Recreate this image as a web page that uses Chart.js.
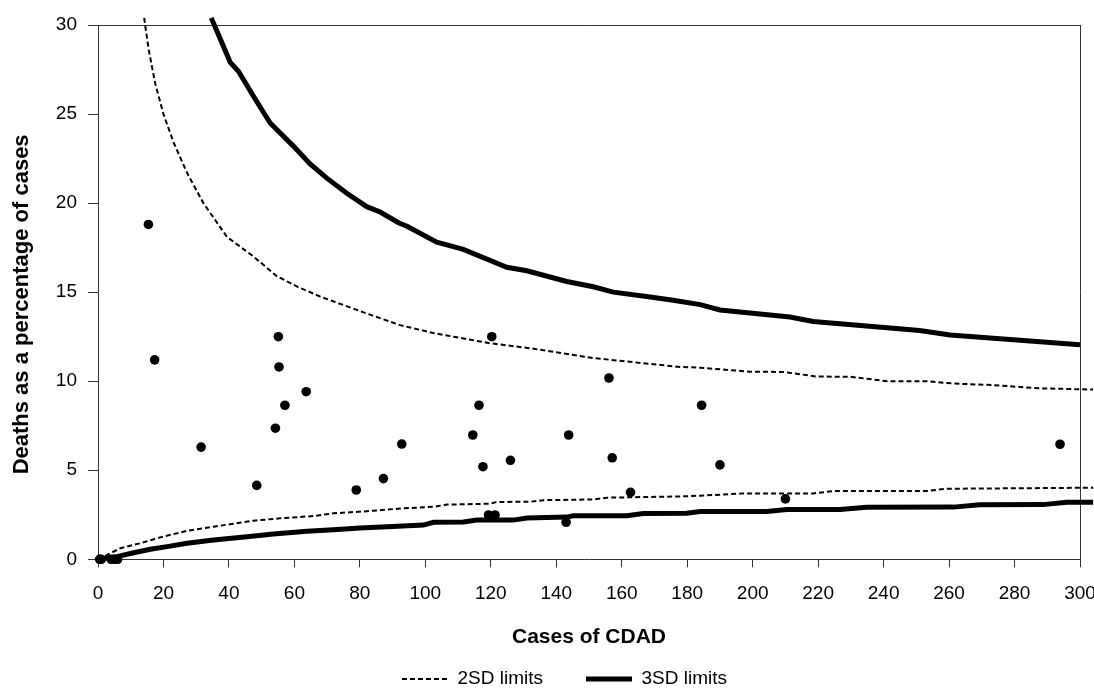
<!DOCTYPE html>
<html>
<head>
<meta charset="utf-8">
<script src="https://cdn.jsdelivr.net/npm/chart.js@4/dist/chart.umd.min.js"></script>
<style>
  body { margin: 0; background: #fff; }
  canvas { display: block; }
</style>
</head>
<body>
<canvas id="funnelChart" width="1094" height="688"></canvas>
<script>
// Observed values: cases of CDAD and deaths as % of cases
var casesObs = [0.5, 1, 4, 5, 6, 15.4, 17.3, 31.5, 48.5, 54.2, 55.1, 55.3, 57.1, 63.6, 78.9, 87.2, 92.8,
    114.5, 116.4, 117.6, 119.3, 120.3, 121.3, 126, 143, 143.8, 156.1, 157.1, 162.7, 184.4, 190, 210, 293.9];
var deathsPct = [0, 0, 0, 0, 0, 18.8, 11.2, 6.3, 4.15, 7.36, 12.5, 10.8, 8.65, 9.41, 3.89, 4.53, 6.47,
    6.98, 8.65, 5.2, 2.49, 12.5, 2.49, 5.56, 2.08, 6.98, 10.18, 5.7, 3.76, 8.65, 5.3, 3.39, 6.46];

// 2SD limits
var upper2X = [14.1, 15.5, 17.5, 20, 23.1, 27.2, 32.2, 39.4, 47.5, 54.6, 61, 67.9, 82.1, 92.3, 102.5, 119.8,
    132, 151.3, 177.8, 184, 199.3, 209.4, 219.6, 229.8, 241, 253, 261.3, 273.5, 287.7, 304];
var upper2Y = [30.4, 28.6, 26.7, 25.0, 23.4, 21.7, 20.0, 18.1, 17.0, 15.9, 15.3, 14.75, 13.8, 13.15, 12.7, 12.13,
    11.85, 11.3, 10.8, 10.76, 10.53, 10.52, 10.26, 10.25, 10.0, 10.0, 9.87, 9.78, 9.6, 9.53];
var lower2X = [0, 3.8, 6.8, 12.9, 19, 27.2, 35.3, 41.4, 47.5, 55.7, 65.8, 71.9, 82.1, 92.3, 102.5, 106.6,
    119.8, 121.8, 132, 136.1, 151.3, 155.4, 177.8, 184, 197.1, 218.5, 224.6, 253, 259.1, 304];
var lower2Y = [0, 0.34, 0.62, 0.9, 1.23, 1.6, 1.83, 2.0, 2.17, 2.3, 2.43, 2.58, 2.7, 2.85, 2.95, 3.07,
    3.12, 3.22, 3.23, 3.32, 3.36, 3.46, 3.53, 3.57, 3.7, 3.7, 3.83, 3.83, 3.96, 4.02];

// 3SD limits
var upper3X = [34.6, 37.4, 40.4, 42.9, 47.5, 52.6, 59.7, 64.8, 69.9, 76, 82.1, 86.2, 91.8, 94.4, 103.5, 111.6,
    124.9, 131, 143.2, 151.3, 157.4, 167.6, 175.7, 184, 190, 211.4, 218.5, 251, 260.3, 300, 304];
var upper3Y = [30.4, 29.2, 27.9, 27.4, 26.0, 24.5, 23.2, 22.2, 21.4, 20.55, 19.8, 19.5, 18.9, 18.7, 17.8, 17.4,
    16.4, 16.2, 15.6, 15.3, 15.0, 14.75, 14.55, 14.3, 14.0, 13.6, 13.35, 12.85, 12.6, 12.05, 12.0];
var lower3X = [0, 5.8, 10.9, 16, 21.1, 27.2, 35.3, 45.5, 53.6, 63.8, 71.9, 80, 90, 99.4, 102.5, 111.6, 115.7,
    126.9, 131, 143.2, 145.2, 161.5, 166.6, 179.8, 184, 204.3, 210.4, 226.7, 234.8, 261.3, 269.4, 288.7, 295.9, 304];
var lower3Y = [0, 0.15, 0.37, 0.56, 0.71, 0.9, 1.08, 1.27, 1.42, 1.58, 1.66, 1.76, 1.84, 1.92, 2.08, 2.1, 2.2,
    2.2, 2.32, 2.37, 2.44, 2.45, 2.57, 2.58, 2.68, 2.68, 2.8, 2.8, 2.92, 2.93, 3.06, 3.07, 3.2, 3.2];

// axis ranges and tick steps
var xRange = [0, 300];
var yRange = [0, 30];
var xStep = 20;
var yStep = 5;

function toPoints(xs, ys) {
    return xs.map(function(x, i) { return { x: x, y: ys[i] }; });
}

// moves the legend so it sits where the original one does
var legendNudge = {
    id: 'legendNudge',
    afterLayout: function(chart) {
        var lg = chart.legend;
        if (!lg) return;
        lg.left = 49;
        lg.top += 10.5;
        lg.bottom += 10.5;
    }
};

Chart.defaults.font.family = '"Liberation Sans", Arial, sans-serif';
Chart.defaults.color = '#000';

var axisColor = '#333';

var ctx = document.getElementById('funnelChart').getContext('2d');
var chart = new Chart(ctx, {
    type: 'scatter',
    data: {
        datasets: [
            {
                label: '2SD limits',
                data: toPoints(upper2X, upper2Y),
                showLine: true, borderColor: '#000', borderWidth: 2, borderDash: [5, 3],
                pointRadius: 0, tension: 0, clip: false
            },
            {
                label: '2SD lower',
                data: toPoints(lower2X, lower2Y),
                showLine: true, borderColor: '#000', borderWidth: 2, borderDash: [5, 3],
                pointRadius: 0, tension: 0, clip: false
            },
            {
                label: '3SD limits',
                data: toPoints(upper3X, upper3Y),
                showLine: true, borderColor: '#000', borderWidth: 5,
                pointRadius: 0, tension: 0, clip: false
            },
            {
                label: '3SD lower',
                data: toPoints(lower3X, lower3Y),
                showLine: true, borderColor: '#000', borderWidth: 5,
                pointRadius: 0, tension: 0, clip: false
            },
            {
                label: 'Observed',
                data: toPoints(casesObs, deathsPct),
                backgroundColor: '#000', borderWidth: 0,
                pointRadius: 4.8, pointHoverRadius: 4.8, clip: false
            }
        ]
    },
    options: {
        responsive: false,
        animation: false,
        layout: { padding: { top: 25, right: 14, bottom: 0, left: 0 } },
        plugins: {
            tooltip: { enabled: false },
            legend: {
                position: 'bottom',
                labels: {
                    usePointStyle: true,
                    pointStyle: 'line',
                    pointStyleWidth: 46,
                    padding: 43,
                    color: '#000',
                    font: { size: 19 },
                    // legend line keeps the dash and width of its dataset
                    generateLabels: function(chart) {
                        var items = Chart.defaults.plugins.legend.labels.generateLabels(chart);
                        items.forEach(function(item) {
                            var ds = chart.data.datasets[item.datasetIndex];
                            item.lineDash = ds.borderDash || [];
                            item.lineWidth = ds.borderWidth;
                            item.strokeStyle = '#000';
                        });
                        return items;
                    },
                    filter: function(item) {
                        return item.text === '2SD limits' || item.text === '3SD limits';
                    }
                }
            }
        },
        scales: {
            x: {
                type: 'linear', position: 'bottom', min: xRange[0], max: xRange[1],
                ticks: { stepSize: xStep, font: { size: 19 }, color: '#000', padding: 15, maxRotation: 0 },
                grid: { drawOnChartArea: false, tickLength: 8, tickColor: axisColor },
                border: { color: axisColor, width: 1 },
                title: {
                    display: true, text: 'Cases of CDAD', color: '#000',
                    font: { size: 21, weight: 'bold' },
                    padding: { top: 4.7, bottom: -34 }
                },
                afterFit: function(s) { s.paddingLeft = 0; s.paddingRight = 0; }
            },
            y: {
                type: 'linear', position: 'left', min: yRange[0], max: yRange[1],
                ticks: { stepSize: yStep, font: { size: 19 }, color: '#000', padding: 11 },
                grid: { drawOnChartArea: false, tickLength: 10, tickColor: axisColor },
                border: { color: axisColor, width: 1 },
                title: {
                    display: true, text: 'Deaths as a percentage of cases    ', color: '#000',
                    font: { size: 22, weight: 'bold' },
                    padding: { top: 9, bottom: 0 }
                },
                afterFit: function(s) { s.width = 98; }
            },
            xTop: {
                type: 'linear', position: 'top', min: xRange[0], max: xRange[1],
                ticks: { display: false },
                grid: { drawOnChartArea: false, drawTicks: false },
                border: { color: axisColor, width: 1 }
            },
            yRight: {
                type: 'linear', position: 'right', min: yRange[0], max: yRange[1],
                ticks: { display: false },
                grid: { drawOnChartArea: false, drawTicks: false },
                border: { color: axisColor, width: 1 }
            }
        }
    },
    plugins: [legendNudge]
});
</script>
</body>
</html>
